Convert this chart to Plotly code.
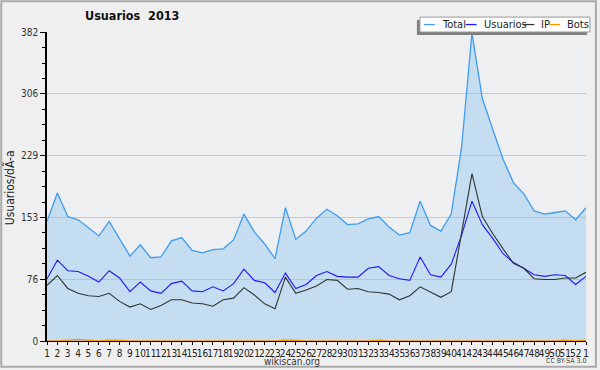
import plotly.graph_objects as go

# ---- data ----
week_labels = [str(i) for i in range(1, 53)] + ["1"]
total = [148, 183, 154, 150, 140, 130, 148, 126, 105, 119, 103, 104, 124, 128,
         112, 109, 113, 114, 125, 157, 135, 120, 102, 165, 126, 136, 152, 163,
         155, 144, 145, 151, 154, 141, 131, 134, 173, 143, 136, 157, 240, 381,
         300, 262, 225, 196, 182, 161, 157, 159, 161, 150, 165]
usuarios = [77, 100, 87, 86, 80, 73, 87, 78, 61, 73, 62, 59, 71, 74,
            62, 61, 67, 62, 71, 89, 75, 72, 60, 84, 65, 70, 81, 86,
            80, 79, 79, 90, 92, 81, 77, 75, 104, 82, 79, 95, 131, 173,
            144, 127, 108, 97, 90, 82, 80, 82, 81, 70, 80]
ip = [69, 81, 65, 59, 56, 55, 59, 49, 42, 46, 39, 44, 51, 51,
      47, 46, 43, 51, 53, 66, 57, 46, 40, 79, 59, 63, 68, 76,
      75, 64, 65, 61, 60, 58, 51, 56, 67, 60, 54, 61, 135, 207,
      154, 133, 114, 96, 90, 77, 76, 76, 78, 78, 85]
bots = [0, 0, 1, 2, 1, 0, 1, 1, 0, 0, 0, 0, 0, 0,
        0, 0, 0, 0, 0, 0, 0, 0, 0, 1, 1, 0, 0, 0,
        0, 0, 0, 0, 1, 0, 0, 0, 0, 0, 0, 0, 0, 0,
        0, 0, 0, 0, 0, 0, 0, 0, 1, 0, 1]
y_tickvals = [0, 76.4, 152.8, 229.2, 305.6, 382]
y_ticktext = ["0", "76", "153", "229", "306", "382"]

x = list(range(1, len(week_labels) + 1))

W, H = 600, 370
L, R, T, B = 47, 589, 32, 343  # plot area in px


def px(xp):
    return (xp - L) / (R - L)


def py(yp):
    return (B - yp) / (B - T)


FONT = "DejaVu Sans Condensed, DejaVu Sans, sans-serif"

c_total = "#3f9cf0"
c_usu = "#1a1aff"
c_ip = "#333333"
c_bots = "#ff9900"

fig = go.Figure()
fig.add_trace(go.Scatter(x=x, y=total, mode="lines", name="Total",
                         line=dict(color=c_total, width=1.3),
                         fill="tozeroy", fillcolor="rgba(118,188,238,0.35)"))
fig.add_trace(go.Scatter(x=x, y=usuarios, mode="lines", name="Usuarios",
                         line=dict(color=c_usu, width=1.1)))
fig.add_trace(go.Scatter(x=x, y=ip, mode="lines", name="IP",
                         line=dict(color=c_ip, width=1.1)))
fig.add_trace(go.Scatter(x=x, y=bots, mode="lines", name="Bots",
                         line=dict(color=c_bots, width=1.5)))

minor_vals = [round(i * 19.1, 2) for i in range(1, 20) if i % 4 != 0]

fig.update_layout(
    width=W, height=H,
    margin=dict(l=L, r=W - R, t=T, b=H - B, pad=0),
    paper_bgcolor="#efeff0",
    plot_bgcolor="#eeeff1",
    showlegend=False,
    font=dict(family=FONT, size=10, color="#222"),
    title=dict(text="Usuarios\u00a0 2013", x=85 / W, xanchor="left",
               y=1 - 16 / H, yanchor="middle", yref="container", xref="container",
               font=dict(family=FONT, size=12.5, color="#111", weight="bold")),
    xaxis=dict(range=[1, len(x)], tickvals=x, ticktext=week_labels,
               tickangle=0, showgrid=False, zeroline=False,
               showline=True, linecolor="#000", linewidth=1,
               ticks="outside", ticklen=3, tickcolor="#000",
               tickfont=dict(size=10, color="#222", family=FONT)),
    yaxis=dict(range=[0, 382.3], tickvals=y_tickvals, ticktext=y_ticktext,
               showgrid=True, gridcolor="#c9c9cc", gridwidth=1, zeroline=False,
               showline=True, linecolor="#000", linewidth=1.5,
               ticks="outside", ticklen=5, tickcolor="#000",
               tickfont=dict(size=10, color="#333", family=FONT),
               minor=dict(tickvals=minor_vals, ticks="outside", ticklen=3,
                          tickcolor="#000", showgrid=False)),
)

shapes = []
annotations = []

# outer border
shapes.append(dict(type="rect", xref="paper", yref="paper",
                   x0=px(1), x1=px(W - 1), y0=py(H - 1), y1=py(1),
                   line=dict(color="#aaaaaa", width=2), fillcolor="rgba(0,0,0,0)",
                   layer="above"))

# legend shadow and box
shapes.append(dict(type="rect", xref="paper", yref="paper",
                   x0=px(419), x1=px(590), y0=py(35), y1=py(20),
                   line=dict(width=0), fillcolor="#7d7d7d", layer="above"))
shapes.append(dict(type="rect", xref="paper", yref="paper",
                   x0=px(422), x1=px(593), y0=py(32), y1=py(17),
                   line=dict(color="#999999", width=1), fillcolor="#ffffff",
                   layer="above"))
legend_items = [("Total", c_total, 426, 437, 442),
                ("Usuarios", c_usu, 468, 479, 484),
                ("IP", c_ip, 526, 537, 542),
                ("Bots", c_bots, 552, 563, 568)]
for name, col, lx0, lx1, tx in legend_items:
    shapes.append(dict(type="line", xref="paper", yref="paper",
                       x0=px(lx0), x1=px(lx1), y0=py(24.5), y1=py(24.5),
                       line=dict(color=col, width=1.3), layer="above"))
    annotations.append(dict(text=name, xref="paper", yref="paper",
                            x=px(tx), y=py(24.5), xanchor="left", yanchor="middle",
                            showarrow=False,
                            font=dict(family=FONT, size=11, color="#222")))

# y-axis title
annotations.append(dict(text="Usuarios/dÃ-a", xref="paper", yref="paper",
                        x=px(10), y=py(189), textangle=-90, showarrow=False,
                        xanchor="center", yanchor="middle",
                        font=dict(family=FONT, size=12, color="#222")))
# footer texts
annotations.append(dict(text="wikiscan.org", xref="paper", yref="paper",
                        x=px(293), y=py(363.5), showarrow=False,
                        xanchor="center", yanchor="middle",
                        font=dict(family=FONT, size=10, color="#333")))
annotations.append(dict(text="CC BY-SA 3.0", xref="paper", yref="paper",
                        x=px(591), y=py(363), showarrow=False,
                        xanchor="right", yanchor="middle",
                        font=dict(family=FONT, size=7, color="#444")))

fig.update_layout(shapes=shapes, annotations=annotations)
fig.write_html("out.html", config={"displayModeBar": False},
               post_script="document.body.style.margin='0';document.body.style.overflow='hidden';")
